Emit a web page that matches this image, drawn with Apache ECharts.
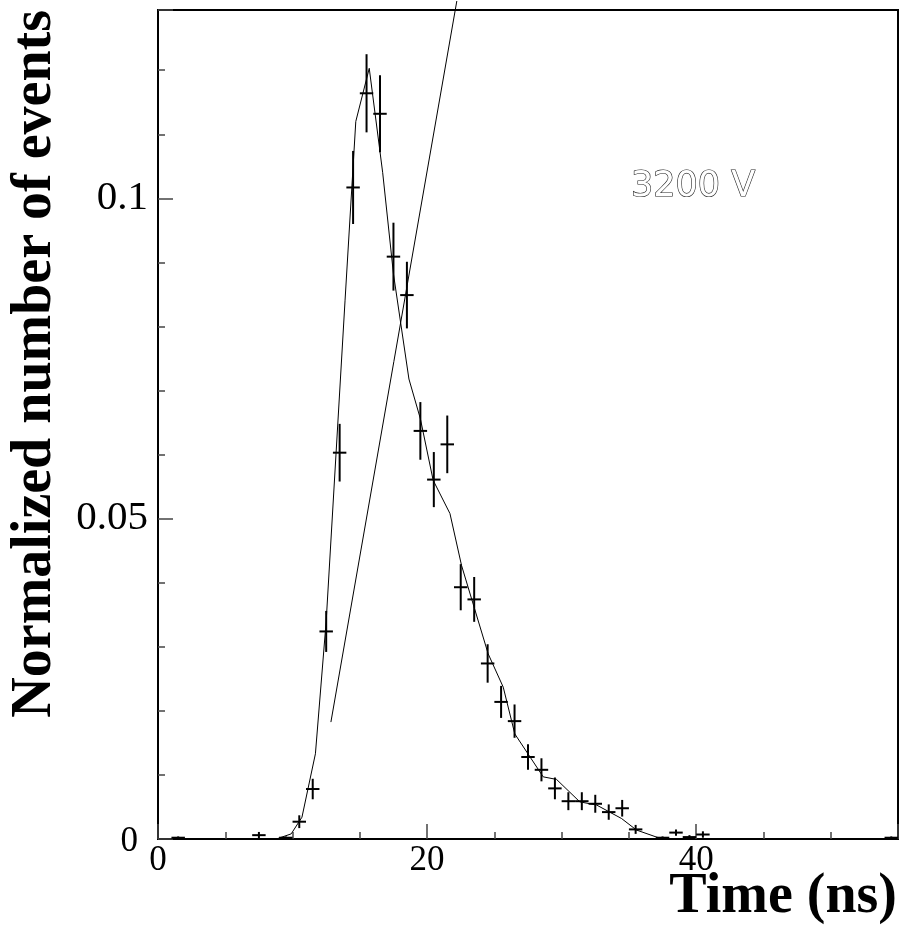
<!DOCTYPE html>
<html><head><meta charset="utf-8">
<script src="https://cdn.jsdelivr.net/npm/echarts@6/dist/echarts.min.js"></script>
<style>html,body{margin:0;padding:0;background:#fff}#c{width:904px;height:927px}</style>
</head><body><div id="c"></div>
<script>
// Histogram bins (ns, centres), normalized contents and errors
const binCenters = [1.5,7.5,9.5,10.5,11.5,12.5,13.5,14.5,15.5,16.5,17.5,18.5,19.5,20.5,21.5,22.5,23.5,24.5,25.5,26.5,27.5,28.5,29.5,30.5,31.5,32.5,33.5,34.5,35.5,37.5,38.5,39.5,40.5,54.5];
const counts = [0.0002,0.0006,0.0002,0.0027,0.0078,0.0324,0.0603,0.1017,0.1164,0.1132,0.0909,0.0849,0.0637,0.0561,0.0616,0.0393,0.0374,0.0274,0.0214,0.0184,0.0128,0.0108,0.0079,0.0059,0.0059,0.0055,0.0042,0.0048,0.0015,0.0002,0.0010,0.0003,0.0007,0.0002];
const errors = [0.0002,0.0005,0.0002,0.0010,0.0016,0.0032,0.0045,0.0057,0.0061,0.0060,0.0053,0.0052,0.0045,0.0043,0.0045,0.0036,0.0035,0.0030,0.0025,0.0026,0.0020,0.0018,0.0017,0.0014,0.0014,0.0014,0.0012,0.0013,0.0007,0.0002,0.0005,0.0003,0.0005,0.0002];
// Simulation curve
const curveX = [8.8,9.9,10.7,11.7,12.5,13.9,14.7,15.7,16.7,17.5,18.65,19.5,20.45,21.7,22.56,24.54,25.66,26.52,28.63,29.62,31.35,32.6,34.45,35.56,37.05,37.5];
const curveY = [0,0.0008,0.0034,0.0133,0.034,0.084,0.112,0.1203,0.104,0.0882,0.0718,0.0656,0.056,0.0508,0.0427,0.0289,0.0237,0.0164,0.0097,0.0093,0.0058,0.0053,0.0032,0.0014,0.0003,0];
// Straight line
const lineX = [12.85, 22.21];
const lineY = [0.01825, 0.1308];
// Axis settings
const xMin = 0, xMax = 55, xMajor = 20, xMinor = 5;
const yMin = 0, yMax = 0.1294, yMajor = 0.05, yMinor = 0.01;
const annotation = '3200 V';
const xTitle = 'Time (ns)';
const yTitle = 'Normalized number of events';

const isMult = (v, s) => Math.abs(v / s - Math.round(v / s)) < 1e-6;
const serif = '"Liberation Serif", "Times New Roman", serif';
const lbl = {fontFamily: serif, fontSize: 35, color: '#000'};

function yLabel(v) {
  if (!isMult(v, yMajor)) return '';
  if (v === 0) return '{z|0}';
  return '{n|' + String(+v.toFixed(4)) + '}';
}

const chart = echarts.init(document.getElementById('c'), null, {renderer: 'canvas'});
chart.setOption({
  animation: false,
  backgroundColor: '#fff',
  grid: {left: 158, right: 6, top: 10, bottom: 88, show: true, borderColor: '#000', borderWidth: 2, containLabel: false},
  xAxis: [
    {type: 'value', min: xMin, max: xMax, interval: xMajor, position: 'bottom',
     axisLine: {show: true, lineStyle: {color: '#000', width: 2}},
     axisTick: {show: true, inside: true, length: 15, lineStyle: {color: '#444', width: 1.5}},
     axisLabel: Object.assign({show: true, margin: 4, formatter: v => isMult(v, xMajor) ? String(v) : ''}, lbl),
     splitLine: {show: false}},
    {type: 'value', min: xMin, max: xMax, interval: xMinor, position: 'bottom',
     axisLine: {show: false},
     axisTick: {show: true, inside: true, length: 7, lineStyle: {color: '#444', width: 1.5}},
     axisLabel: {show: false}, splitLine: {show: false}}
  ],
  yAxis: [
    {type: 'value', min: yMin, max: yMax, interval: yMajor, position: 'left',
     axisLine: {show: true, lineStyle: {color: '#000', width: 2}},
     axisTick: {show: true, inside: true, length: 15, lineStyle: {color: '#444', width: 1.5}},
     axisLabel: Object.assign({show: true, margin: 10, formatter: yLabel,
       rich: {z: Object.assign({}, lbl, {padding: [6, 10, 0, 0]}),
              n: Object.assign({}, lbl, {fontSize: 41})}}, lbl),
     splitLine: {show: false}},
    {type: 'value', min: yMin, max: yMax, interval: yMinor, position: 'left',
     axisLine: {show: false},
     axisTick: {show: true, inside: true, length: 7, lineStyle: {color: '#444', width: 1.5}},
     axisLabel: {show: false}, splitLine: {show: false}}
  ],
  series: [
    {type: 'line', xAxisIndex: 0, yAxisIndex: 0, data: curveX.map((x, i) => [x, curveY[i]]),
     showSymbol: false, symbol: 'none', lineStyle: {color: '#000', width: 1}, z: 3},
    {type: 'line', xAxisIndex: 0, yAxisIndex: 0, data: lineX.map((x, i) => [x, lineY[i]]),
     showSymbol: false, symbol: 'none', clip: false, lineStyle: {color: '#000', width: 1}, z: 3},
    {type: 'custom', xAxisIndex: 0, yAxisIndex: 0, clip: false, z: 4,
     data: binCenters.map((x, i) => [x, counts[i], errors[i]]),
     renderItem: (params, api) => {
       const x = api.value(0), y = api.value(1), e = api.value(2);
       const c = api.coord([x, y]);
       const t = api.coord([x, y + e]);
       const b = api.coord([x, Math.max(0, y - e)]);
       const l = api.coord([Math.max(xMin, x - 0.5), y]);
       const r = api.coord([Math.min(xMax, x + 0.5), y]);
       return {type: 'group', children: [
         {type: 'line', shape: {x1: c[0], y1: t[1], x2: c[0], y2: b[1]}, style: {stroke: '#000', lineWidth: 2}},
         {type: 'line', shape: {x1: l[0], y1: c[1], x2: r[0], y2: c[1]}, style: {stroke: '#000', lineWidth: 2}}
       ]};
     }}
  ],
  graphic: [
    {type: 'text', x: 36, y: 10, rotation: Math.PI / 2,
     style: {text: yTitle, font: 'bold 56px ' + serif, fill: '#000', align: 'right', verticalAlign: 'middle'}},
    {type: 'text', x: 897, y: 870,
     style: {text: xTitle, font: 'bold 56px ' + serif, fill: '#000', align: 'right', verticalAlign: 'top'}},
    {type: 'text', x: 631, y: 187,
     style: {text: annotation, font: '35px "DejaVu Sans", sans-serif', fill: '#fff', stroke: '#222', lineWidth: 1.2, align: 'left', verticalAlign: 'middle'}}
  ]
});
</script></body></html>
